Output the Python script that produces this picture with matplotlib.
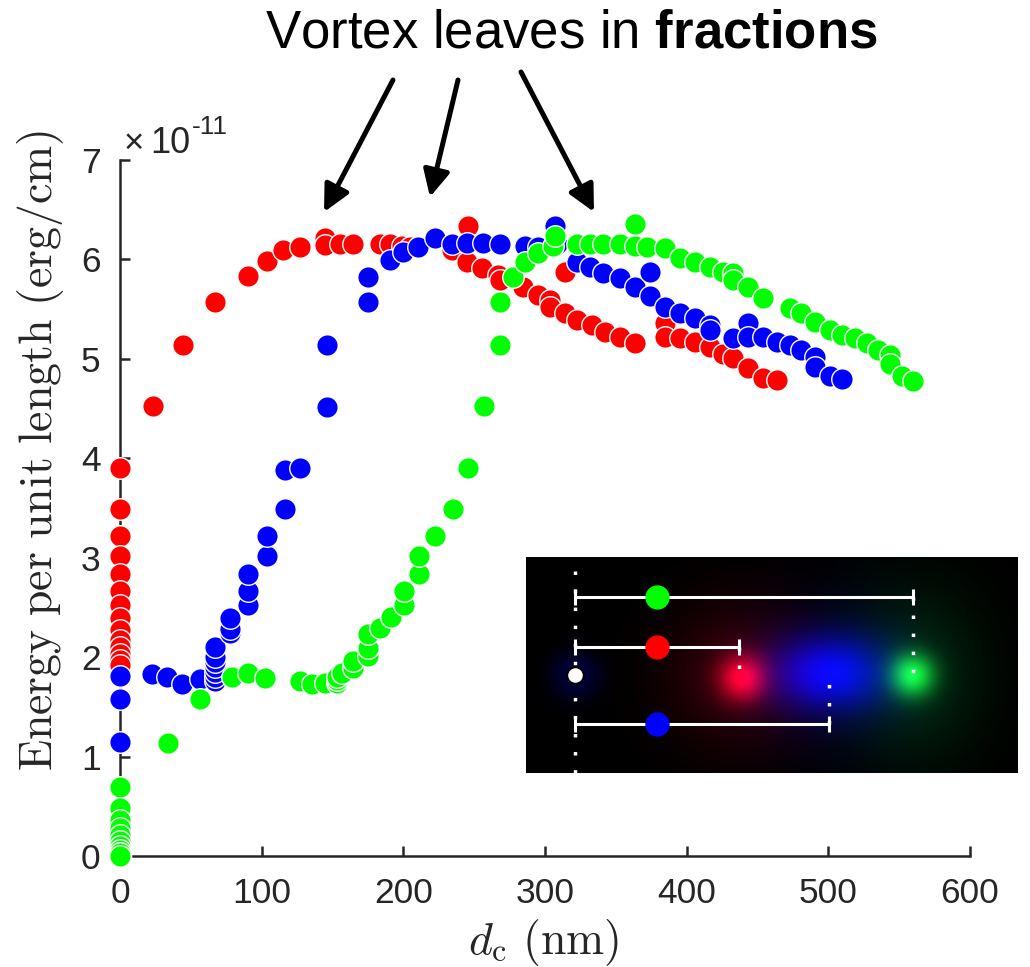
import numpy as np
import matplotlib
matplotlib.use("Agg")
import matplotlib.pyplot as plt
from matplotlib.patches import FancyArrowPatch
from matplotlib.ticker import FuncFormatter, MultipleLocator

plt.rcParams["font.family"] = "Liberation Sans"
plt.rcParams["mathtext.fontset"] = "custom"
plt.rcParams["mathtext.rm"] = "Liberation Sans"
plt.rcParams["mathtext.bf"] = "Liberation Sans:bold"
plt.rcParams["axes.unicode_minus"] = False

# ---- energy per unit length (units of 1e-11 erg/cm) vs core separation d_c (nm)
red_d = [0] * 14 + [23.3, 44.5, 67, 90, 104, 115, 127, 145, 145, 155, 164.5, 183.5,
                    190.6, 199, 205, 234, 245.6, 245, 255.5, 267, 268, 284.5, 295,
                    303.5, 303.5, 314, 314, 322.6, 333, 342, 353, 363.5, 384.7, 384.7,
                    395, 406, 416.5, 425.6, 432.7, 443, 454, 463.8]
red_e = [3.90, 3.49, 3.22, 3.02, 2.84, 2.67, 2.52, 2.39, 2.27, 2.17, 2.10, 2.03, 1.97, 1.92,
         4.53, 5.14, 5.57, 5.83, 5.98, 6.09, 6.12, 6.22, 6.15, 6.16, 6.16, 6.16,
         6.16, 6.14, 6.13, 6.09, 6.34, 5.97, 5.91, 5.84, 5.79, 5.72, 5.64,
         5.59, 5.52, 5.46, 5.87, 5.39, 5.34, 5.27, 5.22, 5.16, 5.36, 5.22,
         5.21, 5.17, 5.12, 5.05, 5.01, 4.91, 4.81, 4.79]

blue_d = [0, 0, 0, 22.6, 33, 43.8, 56.5, 67, 67, 67, 67, 67, 67, 67, 77.6, 77.6, 77.6,
          90, 90, 90, 103.8, 103.8, 116.5, 116.5, 127, 146, 146, 175, 175, 190.6, 200,
          210, 222, 234, 245, 256, 268, 286, 295, 307, 308.5, 322.6, 331.8, 341, 353,
          363.5, 374, 374, 384.7, 395, 406, 416.5, 416.5, 432.7, 443, 443, 454, 464,
          473, 481, 490.6, 490.6, 501, 509.6]
blue_e = [1.81, 1.58, 1.15, 1.83, 1.80, 1.73, 1.78, 1.76, 1.80, 1.85, 1.90, 1.95, 2.00, 2.10,
          2.24, 2.28, 2.39, 2.52, 2.67, 2.84, 3.02, 3.22, 3.49, 3.88, 3.90, 4.52, 5.14,
          5.57, 5.82, 5.99, 6.07, 6.12, 6.22, 6.16, 6.17, 6.17, 6.16, 6.14, 6.12, 6.34,
          6.16, 5.97, 5.92, 5.86, 5.81, 5.72, 5.87, 5.63, 5.52, 5.46, 5.41, 5.34, 5.29,
          5.21, 5.36, 5.22, 5.22, 5.17, 5.14, 5.09, 5.02, 4.92, 4.83, 4.80]

green_d = [0] * 10 + [33.6, 56.5, 79, 90, 102, 127, 135.5, 145, 153, 153, 153, 156.5,
                      164.5, 164.5, 175, 175, 175, 183.5, 191, 200.5, 200.5, 211, 211,
                      222, 235, 245.6, 257, 268, 268, 277.6, 286, 295, 305.6, 307,
                      322.6, 331.8, 341, 353, 363.5, 363.5, 372, 384.7, 395, 406, 416.5,
                      425.6, 432.7, 432.7, 443, 454, 473, 481, 490.6, 501, 509.6, 519,
                      527, 535, 543.5, 543.5, 552, 560]
green_e = [0.69, 0.48, 0.36, 0.28, 0.21, 0.15, 0.10, 0.06, 0.03, 0.0,
           1.14, 1.58, 1.80, 1.84, 1.79, 1.76, 1.73, 1.74, 1.74, 1.77, 1.80, 1.84,
           1.89, 1.96, 2.01, 2.09, 2.23, 2.29, 2.40, 2.52, 2.67, 2.84, 3.02,
           3.22, 3.49, 3.90, 4.53, 5.14, 5.57, 5.82, 5.97, 6.06, 6.14, 6.24,
           6.16, 6.16, 6.16, 6.16, 6.14, 6.36, 6.12, 6.11, 6.01, 5.97, 5.92,
           5.87, 5.86, 5.79, 5.72, 5.61, 5.51, 5.46, 5.37, 5.29, 5.24, 5.21,
           5.16, 5.09, 5.04, 4.95, 4.83, 4.78]

energy_unit = 1e-11
x_ticks = [0, 100, 200, 300, 400, 500, 600]
y_ticks = [0, 1, 2, 3, 4, 5, 6, 7]

# ---- inset: fragments split from the vortex origin
inset_colors = ["#ff0000", "#0000ff", "#00ff00"]
split_distance = [164, 254, 338]   # distance of each fragment from the origin
bar_row = [90, 167, 40]            # row of the span bar for each fragment
fragment_row = 118
bar_marker_x = 82

fig = plt.figure(figsize=(10.3, 9.67), dpi=100)
W, H = 1030, 967
ax = fig.add_axes([120 / W, (H - 856) / H, 850 / W, 696 / H])

for d, e, c in [(red_d, red_e, "#ff0000"), (blue_d, blue_e, "#0000ff"),
                (green_d, green_e, "#00ff00")]:
    ax.scatter(d, np.array(e) * energy_unit, s=240, c=c, edgecolors="white",
               linewidths=1.0, clip_on=False, zorder=3)

ax.set_xlim(0, 600)
ax.set_ylim(0, 7 * energy_unit)
ax.set_xticks(x_ticks)
ax.set_yticks(np.array(y_ticks) * energy_unit)
ax.yaxis.set_major_formatter(FuncFormatter(lambda v, p: f"{v / energy_unit:.0f}"))

for side in ["top", "right"]:
    ax.spines[side].set_visible(False)
for side in ["left", "bottom"]:
    ax.spines[side].set_linewidth(1.8)
    ax.spines[side].set_color("#262626")
ax.spines["bottom"].set_bounds(9, 600)
ax.tick_params(direction="in", length=7, width=1.8, colors="#262626", labelsize=25.5)
ax.tick_params(axis="x", pad=15)
ax.tick_params(axis="y", pad=14)

# axis multiplier, drawn beside the top of the y axis
txt_kw = dict(color="#262626", va="baseline", ha="left")
fig.text(124 / W, (H - 153) / H, "\u00d7", fontsize=25, **txt_kw)
fig.text(150 / W, (H - 153) / H, "10", fontsize=26, **txt_kw)
fig.text(192 / W, (H - 134) / H, "-11", fontsize=19, **txt_kw)

ax.set_ylabel(r"$\mathrm{Energy\ per\ unit\ length\ (erg/cm)}$", fontsize=33,
              math_fontfamily="cm", color="#262626", va="center", ha="center")
ax.yaxis.set_label_coords(-0.094, 0.582)
ax.set_xlabel(r"$d_\mathrm{c}\ \mathrm{(nm)}$", fontsize=33, math_fontfamily="cm",
              color="#262626", va="center", ha="center")
ax.xaxis.set_label_coords(0.498, -0.124)

# ---- title and arrows
fig.text(571.5 / W, (H - 47) / H, r"Vortex leaves in $\mathbf{fractions}$", fontsize=38,
         ha="center", va="baseline", math_fontfamily="custom")
arrows = [((393, 80), (324, 212)), ((458, 80), (430, 197)), ((521, 72), (594, 212))]
for (tx, ty), (hx, hy) in arrows:
    fig.add_artist(FancyArrowPatch(
        (tx / W, (H - ty) / H), (hx / W, (H - hy) / H), transform=fig.transFigure,
        arrowstyle="-|>,head_length=0.8,head_width=0.4", mutation_scale=20,
        lw=3.6, color="black", shrinkA=0, shrinkB=0))

# ---- inset
ins = fig.add_axes([526 / W, (H - 773) / H, 492 / W, 216 / H])
x0, x1, y0, y1 = -49, 443, 0, 216
gx, gy = np.meshgrid(np.linspace(x0, x1, 492), np.linspace(y0, y1, 216))


def glow(cx, cy, sx, sy):
    return np.exp(-((gx - cx) ** 2 / (2 * sx ** 2) + (gy - cy) ** 2 / (2 * sy ** 2)))[..., None]


rx, bx, gxp = split_distance
img = np.zeros((216, 492, 3))
img += np.array([0.0, 0.0, 0.28]) * glow(0, fragment_row, 16, 16)
img += np.array([0.85, 0.0, 0.12]) * glow(rx + 3, fragment_row + 3, 16, 16)
img += np.array([0.22, 0.0, 0.02]) * glow(rx, fragment_row, 50, 50)
img += np.array([0.0, 0.0, 0.85]) * glow(bx, fragment_row - 2, 40, 26)
img += np.array([0.0, 0.0, 0.15]) * glow(bx + 10, fragment_row, 60, 55)
img += np.array([0.08, 0.85, 0.12]) * glow(gxp, fragment_row, 15, 15)
img += np.array([0.0, 0.16, 0.03]) * glow(gxp, fragment_row, 48, 60)
ins.imshow(np.clip(img, 0, 1), extent=(x0, x1, y1, y0), aspect="auto",
           interpolation="bilinear")
ins.set_xlim(x0, x1)
ins.set_ylim(y1, y0)
ins.set_xticks([])
ins.set_yticks([])
for s in ins.spines.values():
    s.set_visible(False)

dots = (0, (1, 4.2))
ins.plot([0, 0], [14, 216], color="white", lw=2.5, ls=dots, dash_capstyle="butt")
for dist, row, col in zip(split_distance, bar_row, inset_colors):
    ins.plot([dist, dist], [row, fragment_row], color="white", lw=2.5, ls=dots,
             dash_capstyle="butt")
    ins.plot([0, dist], [row, row], color="white", lw=2.2, solid_capstyle="butt")
    ins.plot([0, dist], [row, row], ls="none", marker="|", ms=12, mew=2.2, color="white")
    ins.plot([bar_marker_x], [row], marker="o", ms=16.5, color=col, mec=col)
ins.plot([0], [fragment_row], marker="o", ms=12, color="white", mec="black", mew=1.5)

fig.savefig("out.png", dpi=100)
